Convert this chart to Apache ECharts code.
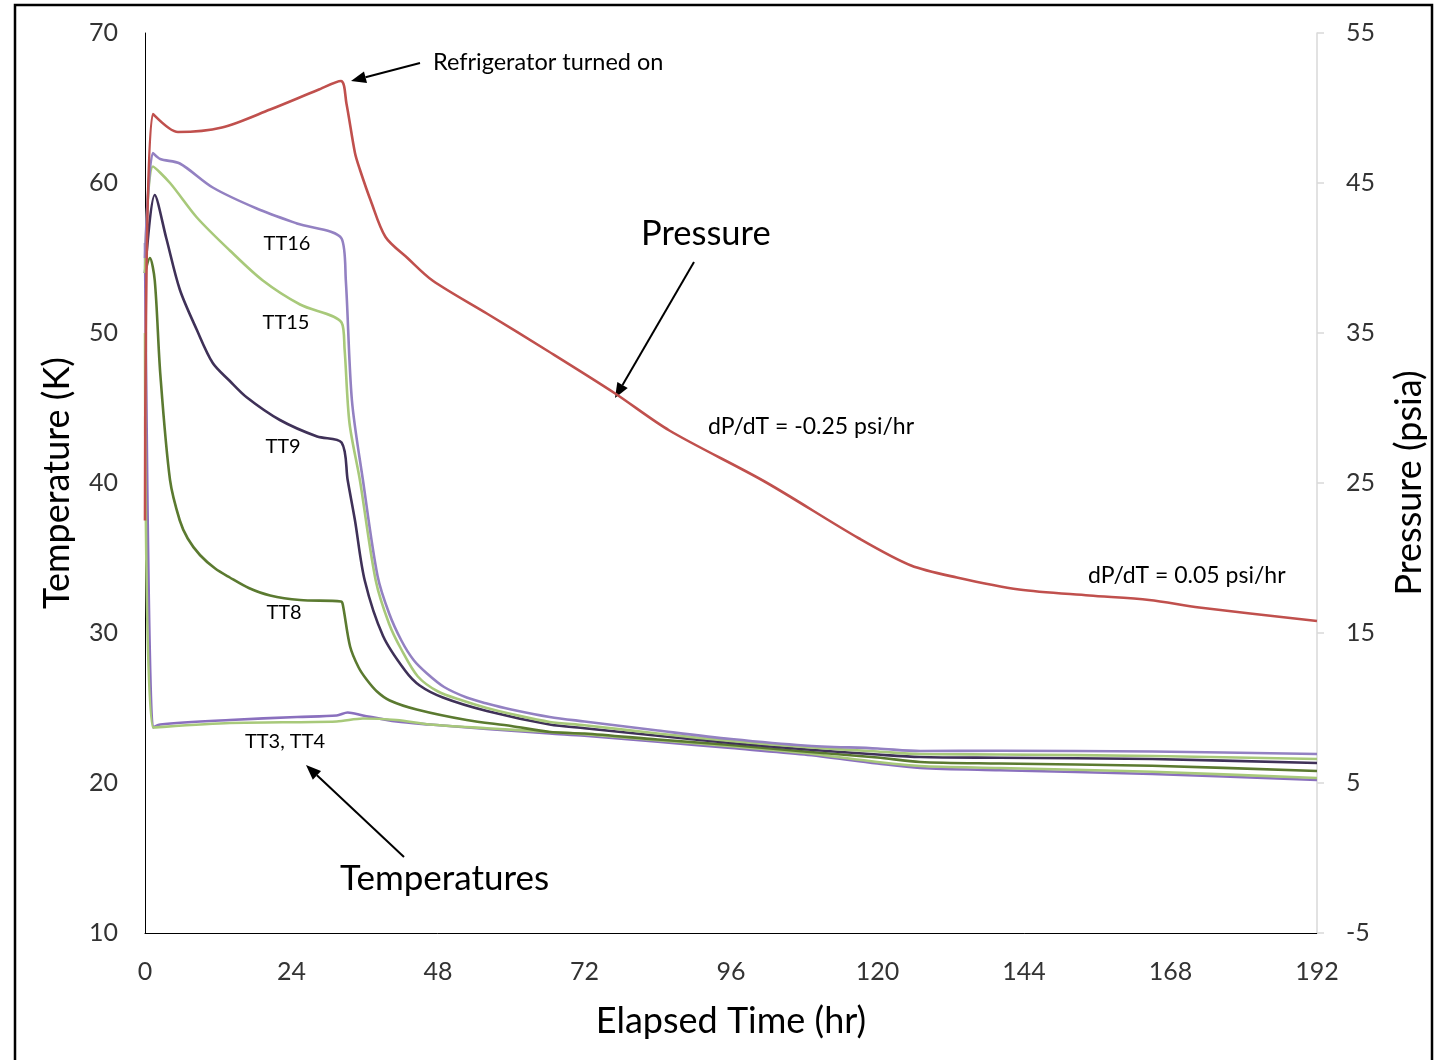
<!DOCTYPE html>
<html>
<head>
<meta charset="utf-8">
<script src="https://cdn.jsdelivr.net/npm/echarts@6/dist/echarts.min.js"></script>
<style>
html,body{margin:0;padding:0;background:#fff;overflow:hidden;}
#chart{width:1435px;height:1060px;}
</style>
</head>
<body>
<div id="chart"></div>
<script>
// ---- Data ----
const xTicks = [0, 24, 48, 72, 96, 120, 144, 168, 192];

const pressureTime = [0, 1.3, 5.4, 12.6, 20.5, 28.3, 32.1, 33, 34.4, 35.2, 37, 39.4, 43, 47.1, 56, 66, 76.9, 85.9, 101.5, 117, 125.5, 133, 143.2, 154.7, 164.5, 172.7, 192];
const pressurePsia = [22.5, 49.6, 48.4, 48.7, 49.9, 51.2, 51.8, 50.3, 47.0, 45.9, 43.8, 41.4, 40.0, 38.5, 36.3, 33.8, 31.0, 28.5, 25.1, 21.3, 19.5, 18.7, 17.9, 17.5, 17.2, 16.7, 15.8];

const tt16Time = [0, 1.3, 2.5, 5.7, 11.1, 18.3, 24.9, 32.2, 32.9, 33.9, 35.7, 38.1, 40, 42, 44, 46.2, 49, 52.7, 56, 60, 66.3, 72, 84, 96, 108, 120, 127, 140, 165, 192];
const tt16Temp = [55, 62.0, 61.6, 61.3, 59.7, 58.3, 57.3, 56.3, 53.5, 45.5, 40.2, 33.8, 31.3, 29.5, 28.2, 27.3, 26.4, 25.7, 25.3, 24.9, 24.4, 24.1, 23.5, 22.93, 22.5, 22.3, 22.13, 22.15, 22.1, 21.93];

const tt15Time = [0, 1.3, 4.1, 8.5, 13.9, 19.3, 25.4, 32.2, 32.7, 33.5, 35.2, 37.8, 40, 42, 44.7, 48, 52, 56, 60, 66.3, 72, 84, 96, 108, 120, 127, 140, 165, 192];
const tt15Temp = [54, 61.1, 60.0, 57.7, 55.5, 53.5, 51.9, 50.7, 48.9, 44.0, 40.2, 33.5, 30.6, 28.9, 27.1, 26.1, 25.5, 25.0, 24.6, 24.07, 23.85, 23.3, 22.8, 22.4, 22.1, 21.93, 21.9, 21.8, 21.6];

const tt9Time = [0, 1.6, 3.5, 5.7, 8.5, 11.1, 13.9, 16.7, 22.1, 28.2, 32.2, 33.2, 34.4, 36, 39, 42.6, 45, 48.8, 56, 66.3, 72, 84, 96, 108, 120, 127, 140, 165, 192];
const tt9Temp = [54, 59.2, 56.3, 52.9, 50.2, 48.0, 46.8, 45.7, 44.2, 43.1, 42.7, 40.2, 37.5, 33.5, 29.8, 27.5, 26.5, 25.7, 24.8, 23.9, 23.65, 23.15, 22.67, 22.25, 21.9, 21.73, 21.68, 21.6, 21.33];

const tt8Time = [0, 0.8, 1.6, 2.5, 4.1, 5.7, 7, 9, 11.5, 13.9, 17, 20.5, 25.4, 32.1, 32.4, 33.6, 35, 36.3, 38, 40.1, 44.5, 52.7, 60, 66.3, 72, 84, 96, 108, 120, 127, 140, 165, 192];
const tt8Temp = [54, 55, 53.5, 47.3, 40.2, 37.5, 36.3, 35.2, 34.3, 33.7, 33.0, 32.5, 32.2, 32.1, 31.9, 29.1, 27.7, 26.9, 26.1, 25.5, 24.9, 24.2, 23.8, 23.4, 23.3, 22.9, 22.53, 22.1, 21.7, 21.4, 21.3, 21.15, 20.8];

const tt3Time = [0, 1.3, 13.9, 31.4, 35.7, 41.2, 46.7, 56, 66.3, 72, 84, 96, 108, 120, 127, 140, 165, 192];
const tt3Temp = [50, 23.7, 24.0, 24.1, 24.3, 24.2, 23.9, 23.65, 23.4, 23.25, 22.85, 22.45, 22.0, 21.4, 21.13, 21.0, 20.75, 20.33];

const tt4Time = [0, 1.3, 2.5, 13.9, 24.9, 31.4, 33.2, 35.7, 41.2, 46.7, 56, 66.3, 72, 84, 96, 108, 120, 127, 140, 165, 192];
const tt4Temp = [56, 23.7, 23.9, 24.2, 24.4, 24.5, 24.7, 24.5, 24.1, 23.9, 23.6, 23.3, 23.15, 22.75, 22.33, 21.9, 21.3, 21.0, 20.85, 20.6, 20.2];

// ---- helpers ----
function pairs(ts, vs){ return ts.map((t,i)=>[t, vs[i]]); }

const FONT = 'Lato, "Open Sans", sans-serif';
const PURPLE = '#9381C2';
const PURPLE2 = '#8A70BE';
const LGREEN = '#A8C97A';
const DPURPLE = '#3F3158';
const DGREEN = '#5B7A30';
const RED = '#C0504D';

function lineSeries(name, data, color, yIdx, z){
  return {
    name, type:'line', data, yAxisIndex:yIdx, showSymbol:false, symbol:'none',
    smooth:0.3, z:z||2,
    lineStyle:{color, width:2.6, join:'round'}, itemStyle:{color}, animation:false
  };
}

const chart = echarts.init(document.getElementById('chart'), null, {renderer:'canvas'});

function arrow(x1,y1,x2,y2){
  const ang = Math.atan2(y2-y1, x2-x1);
  const L = 15, W = 6;
  const bx = x2 - L*Math.cos(ang), by = y2 - L*Math.sin(ang);
  const px = -Math.sin(ang)*W, py = Math.cos(ang)*W;
  return [
    {type:'line', shape:{x1, y1, x2:bx, y2:by}, style:{stroke:'#000', lineWidth:2}},
    {type:'polygon', shape:{points:[[x2,y2],[bx+px,by+py],[bx-px,by-py]]}, style:{fill:'#000'}}
  ];
}

function label(text, x, y, size, anchor){
  return {type:'text', x, y, style:{text, font: size+'px '+FONT, fill:'#000', textAlign:anchor||'left', textVerticalAlign:'middle'}};
}

const option = {
  backgroundColor:'#fff',
  animation:false,
  grid:{left:145, right:113, top:33, bottom:127, containLabel:false},
  xAxis:{
    type:'value', min:0, max:192, interval:24,
    name:'Elapsed Time (hr)', nameLocation:'middle', nameGap:70,
    nameTextStyle:{fontSize:36, color:'#000', fontFamily:FONT},
    axisLine:{show:true, onZero:false, lineStyle:{color:'#000', width:1}},
    axisTick:{show:false},
    axisLabel:{fontSize:25, color:'#333', margin:26, fontFamily:FONT},
    splitLine:{show:false}
  },
  yAxis:[
    {
      type:'value', min:10, max:70, interval:10, position:'left',
      name:'Temperature (K)', nameLocation:'middle', nameGap:70,
      nameTextStyle:{fontSize:36, color:'#000', fontFamily:FONT},
      axisLine:{show:true, lineStyle:{color:'#000', width:1}},
      axisTick:{show:false},
      axisLabel:{fontSize:25, color:'#333', margin:27, fontFamily:FONT},
      splitLine:{show:false}
    },
    {
      type:'value', min:-5, max:55, interval:10, position:'right',
      name:'Pressure (psia)', nameLocation:'middle', nameGap:74,
      nameTextStyle:{fontSize:36, color:'#000', fontFamily:FONT},
      axisLine:{show:true, lineStyle:{color:'#D9D9D9', width:1.5}},
      axisTick:{show:true, inside:false, length:7, lineStyle:{color:'#D9D9D9', width:1.5}},
      axisLabel:{fontSize:25, color:'#333', margin:29, fontFamily:FONT},
      splitLine:{show:false}
    }
  ],
  series:[
    lineSeries('TT4', pairs(tt4Time, tt4Temp), PURPLE2, 0, 2),
    lineSeries('TT3', pairs(tt3Time, tt3Temp), LGREEN, 0, 2),
    lineSeries('TT8', pairs(tt8Time, tt8Temp), DGREEN, 0, 3),
    lineSeries('TT9', pairs(tt9Time, tt9Temp), DPURPLE, 0, 3),
    lineSeries('TT15', pairs(tt15Time, tt15Temp), LGREEN, 0, 3),
    lineSeries('TT16', pairs(tt16Time, tt16Temp), PURPLE, 0, 3),
    lineSeries('Pressure', pairs(pressureTime, pressurePsia), RED, 1, 4)
  ],
  graphic:[
    {type:'rect', shape:{x:15, y:5, width:1417, height:1070}, style:{fill:'none', stroke:'#000', lineWidth:2.5}, z:100},
    label('Refrigerator turned on', 433, 62, 23.5),
    label('Pressure', 641, 234, 34.5),
    label('dP/dT = -0.25 psi/hr', 708, 427, 23),
    label('dP/dT = 0.05 psi/hr', 1088, 576, 23),
    label('TT16', 287, 244, 20, 'center'),
    label('TT15', 286, 323, 20, 'center'),
    label('TT9', 283, 447, 20, 'center'),
    label('TT8', 284, 613, 20, 'center'),
    label('TT3, TT4', 285, 742, 20, 'center'),
    label('Temperatures', 340, 879, 35),
    ...arrow(420,63,351,81),
    ...arrow(694,262,615,398),
    ...arrow(404,857,306,765)
  ]
};
chart.setOption(option);
</script>
</body>
</html>
